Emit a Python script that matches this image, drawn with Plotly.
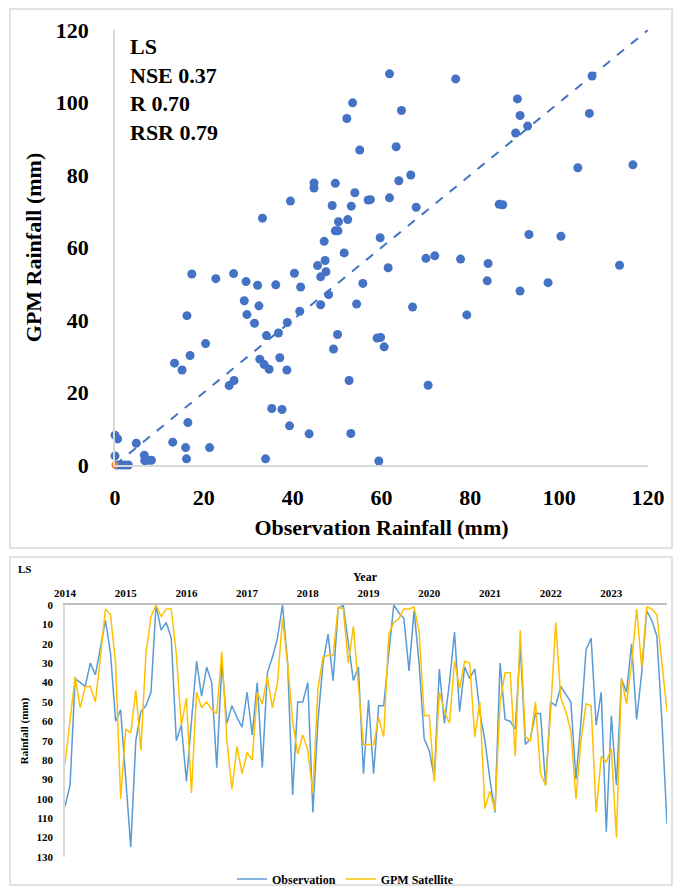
import plotly.graph_objects as go

# --- Scatter panel data (Observation vs GPM, mm) ---
obs_rain = [
    17.3, 22.7, 26.7, 29.5, 33.2, 39.5, 40.4, 44.8, 44.8, 49.6, 48.9, 47.1, 50.3, 49.6, 50.2,
    47.3, 45.6, 47.5, 46.3, 61.8, 76.7, 53.5, 52.2, 64.5, 63.3, 55.1, 90.6, 91.2, 90.2, 92.9,
    107.4, 106.8, 104.2, 116.6, 66.6, 63.9, 54.0, 61.8, 57.0, 57.5, 53.2, 67.8, 86.5, 87.3, 52.4,
    59.7, 93.2, 100.4, 51.6, 70.0, 72.0, 77.8, 84.0, 61.5, 113.6, 32.1, 36.2, 41.8, 29.1, 32.4,
    16.2, 29.7, 41.6, 46.3, 48.1, 31.4, 38.8, 34.1, 36.8, 20.4, 16.9, 13.4, 15.1, 32.6, 33.6,
    34.7, 37.1, 38.7, 26.8, 25.7, 35.3, 37.6, 39.3, 43.7, 16.4, 13.0, 15.9, 21.3, 16.1, 33.9,
    4.8, 0.0, 0.6, 0.0, 6.6, 6.7, 7.4, 8.2, 0.5, 1.5, 2.2, 3.0, 49.2, 50.1, 55.8,
    54.4, 83.8, 91.2, 97.5, 67.0, 79.2, 59.0, 59.8, 60.6, 52.7, 70.5, 53.1, 59.4,
]
gpm_rain = [
    52.7, 51.4, 52.8, 50.6, 68.1, 72.8, 52.9, 77.8, 76.4, 77.7, 71.6, 61.7, 67.1, 64.6, 64.6,
    56.4, 55.0, 53.3, 51.9, 107.9, 106.5, 99.9, 95.6, 97.8, 87.8, 86.9, 101.0, 96.4, 91.6, 93.5,
    107.3, 97.0, 82.0, 82.8, 80.0, 78.4, 75.1, 73.7, 73.1, 73.2, 71.4, 71.1, 71.9, 71.8, 67.7,
    62.7, 63.6, 63.1, 58.5, 57.0, 57.7, 56.8, 55.6, 54.4, 55.1, 49.6, 49.7, 49.1, 45.3, 43.9,
    41.2, 41.5, 42.4, 44.2, 47.0, 39.1, 39.3, 35.7, 36.4, 33.5, 30.2, 28.1, 26.2, 29.2, 27.7,
    26.4, 29.6, 26.2, 23.3, 21.9, 15.6, 15.3, 10.8, 8.6, 11.7, 6.3, 4.8, 4.8, 1.7, 1.7,
    6.0, 8.2, 7.2, 2.5, 2.7, 1.2, 1.3, 1.3, 0.0, 0.0, 0.0, 0.0, 32.0, 36.0, 50.1,
    44.4, 50.8, 48.0, 50.3, 43.6, 41.4, 35.0, 35.2, 32.6, 23.3, 22.0, 8.7, 1.1,
]
trend_x = [0, 120]
trend_y = [0, 120]
origin_x = [0]
origin_y = [0]
stats_text = "LS<br>NSE 0.37<br>R 0.70<br>RSR 0.79"

# --- Time series panel data (monthly, 2014-2023) ---
years = ["2014", "2015", "2016", "2017", "2018", "2019", "2020", "2021", "2022", "2023"]
observation = [
    104, 93, 38, 40, 42, 30, 36, 22, 8, 25, 60, 54, 90, 125, 70, 55, 52, 45, 0, 13,
    9, 17, 70, 62, 91, 60, 29, 47, 32, 40, 84, 30, 61, 52, 58, 63, 45, 67, 40, 84,
    35, 27, 17, 0, 30, 98, 50, 50, 40, 107, 60, 30, 15, 39, 2, 0, 20, 39, 32, 87,
    49, 87, 52, 52, 25, 0, 4, 7, 34, 3, 30, 69, 75, 89, 33, 61, 40, 14, 55, 32,
    38, 33, 55, 70, 90, 107, 30, 59, 60, 64, 21, 72, 69, 56, 56, 93, 50, 52, 42, 46,
    50, 90, 60, 23, 17, 62, 45, 117, 57, 93, 38, 45, 20, 59, 35, 3, 8, 16, 60, 113,
]
gpm_satellite = [
    82, 60, 37, 53, 42, 42, 50, 27, 2, 5, 30, 100, 64, 66, 44, 75, 25, 6, 0, 6,
    2, 2, 25, 62, 48, 97, 45, 53, 50, 54, 56, 24, 70, 95, 73, 87, 76, 80, 45, 51,
    37, 53, 40, 7, 30, 60, 77, 67, 75, 97, 43, 27, 26, 26, 1, 2, 30, 11, 40, 72,
    72, 72, 58, 68, 15, 9, 7, 2, 2, 1, 14, 57, 57, 91, 45, 55, 61, 29, 43, 29,
    30, 68, 50, 105, 96, 106, 50, 35, 35, 78, 13, 68, 70, 50, 87, 93, 55, 9, 48, 55,
    65, 100, 70, 51, 52, 107, 78, 81, 74, 120, 38, 51, 30, 2, 32, 1, 2, 5, 30, 55,
]
months = list(range(len(observation)))

W, H = 673, 886
SERIF = "Liberation Serif"
GRAY = "#d9d9d9"


def px(x):
    return x / W


def py(y):
    return 1 - y / H


fig = go.Figure()

# --- Top: scatter ---
fig.add_trace(go.Scatter(
    x=obs_rain, y=gpm_rain, mode="markers",
    marker=dict(color="#4472C4", size=9),
    cliponaxis=False, showlegend=False, xaxis="x", yaxis="y",
))
fig.add_trace(go.Scatter(
    x=trend_x, y=trend_y, mode="lines",
    line=dict(color="#4472C4", width=2, dash="dash"),
    showlegend=False, xaxis="x", yaxis="y",
))
fig.add_trace(go.Scatter(
    x=origin_x, y=origin_y, mode="markers",
    marker=dict(color="#ED7D31", size=7),
    cliponaxis=False, showlegend=False, xaxis="x", yaxis="y",
))

# --- Bottom: time series ---
fig.add_trace(go.Scatter(
    x=months, y=observation, mode="lines", name="Observation",
    line=dict(color="#5B9BD5", width=1.5), xaxis="x2", yaxis="y2",
))
fig.add_trace(go.Scatter(
    x=months, y=gpm_satellite, mode="lines", name="GPM Satellite",
    line=dict(color="#FFC000", width=1.5), xaxis="x2", yaxis="y2",
))

fig.update_layout(
    width=W, height=H,
    margin=dict(l=0, r=0, t=0, b=0, autoexpand=False),
    paper_bgcolor="white", plot_bgcolor="white",
    font=dict(family=SERIF, color="black"),
    xaxis=dict(
        domain=[px(115), px(648)], range=[0, 120], dtick=20,
        showgrid=False, zeroline=False, showline=True, linecolor=GRAY, linewidth=1.5,
        ticks="", ticklabelstandoff=12, automargin=False,
        tickfont=dict(family=SERIF, size=22, weight="bold"),
        title=dict(text="<b>Observation Rainfall (mm)</b>", font=dict(family=SERIF, size=22), standoff=10),
        anchor="y",
    ),
    yaxis=dict(
        domain=[py(465), py(30)], range=[0, 120], dtick=20,
        showgrid=False, zeroline=False, showline=True, linecolor=GRAY, linewidth=1.5,
        ticks="", ticklabelstandoff=20, automargin=False,
        tickfont=dict(family=SERIF, size=22, weight="bold"),
        title=dict(text="<b>GPM Rainfall (mm)</b>", font=dict(family=SERIF, size=22), standoff=8),
        anchor="x",
    ),
    xaxis2=dict(
        domain=[px(65), px(667)], range=[0, 119], side="top",
        tickvals=[12 * i for i in range(len(years))], ticktext=years,
        showgrid=False, zeroline=False, showline=True, linecolor="#bfbfbf", linewidth=1.5,
        ticks="", ticklabelstandoff=2, automargin=False,
        tickfont=dict(family=SERIF, size=11, weight="bold"),
        anchor="y2",
    ),
    yaxis2=dict(
        domain=[py(857), py(605)], range=[130, 0], dtick=10,
        showgrid=False, zeroline=False, showline=True, linecolor=GRAY, linewidth=1.5,
        ticks="", ticklabelstandoff=8, automargin=False,
        tickfont=dict(family=SERIF, size=11, weight="bold"),
        title=dict(text="<b>Rainfall (mm)</b>", font=dict(family=SERIF, size=11), standoff=6),
        anchor="x2",
    ),
    legend=dict(
        orientation="h", x=px(232), y=py(879), xanchor="left", yanchor="middle",
        font=dict(family=SERIF, size=12, weight="bold"),
        itemwidth=30, bgcolor="rgba(0,0,0,0)",
    ),
    shapes=[
        dict(type="rect", xref="paper", yref="paper",
             x0=px(10), x1=px(672), y0=py(548), y1=py(9),
             line=dict(color=GRAY, width=1.5)),
        dict(type="rect", xref="paper", yref="paper",
             x0=px(10), x1=px(672), y0=py(885), y1=py(557),
             line=dict(color=GRAY, width=1.5)),
    ],
    annotations=[
        dict(text="<b>" + stats_text.replace("<br>", "</b><br><b>") + "</b>",
             xref="paper", yref="paper", x=px(128), y=py(32),
             xanchor="left", yanchor="top", align="left", showarrow=False,
             font=dict(family=SERIF, size=22)),
        dict(text="<b>LS</b>", xref="paper", yref="paper", x=px(16), y=py(569),
             xanchor="left", yanchor="middle", showarrow=False,
             font=dict(family=SERIF, size=11)),
        dict(text="<b>Year</b>", xref="paper", yref="paper", x=px(366), y=py(577),
             xanchor="center", yanchor="middle", showarrow=False,
             font=dict(family=SERIF, size=12)),
    ],
)

# page margin off so the figure sits at the window's top-left corner
fig.write_html(
    "out.html",
    config={"displayModeBar": False},
    post_script="document.body.style.margin='0';document.body.style.overflow='hidden';",
)
